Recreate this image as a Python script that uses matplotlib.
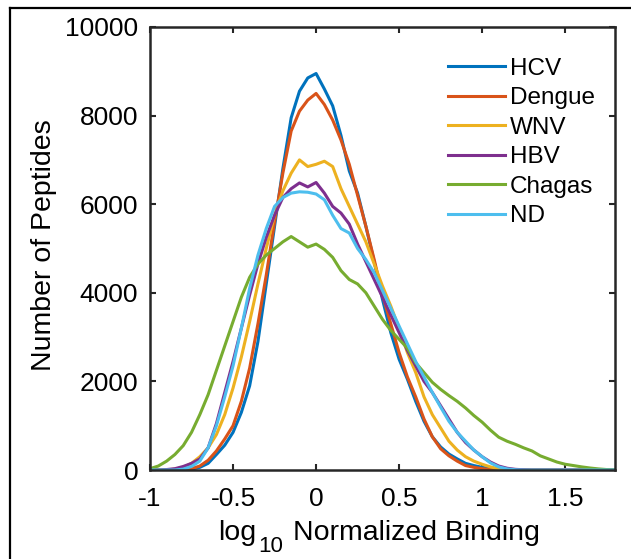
import numpy as np
import matplotlib
matplotlib.use("Agg")
import matplotlib.pyplot as plt
from matplotlib.lines import Line2D

plt.rcParams['font.family'] = ['Liberation Sans', 'DejaVu Sans']

x_start, x_step = -1.0, 0.05

hcv = [0, 0, 0, 0, 0, 20, 60, 150, 350, 560, 850, 1300, 1900, 2900, 4200, 5500, 6800, 7950,
       8550, 8850, 8950, 8600, 8220, 7550, 6750, 6250, 5500, 4700, 3850, 3100, 2500, 2050, 1550,
       1100, 750, 520, 360, 250, 150, 100, 60, 30, 10, 0, 0, 0, 0, 0, 0, 0, 0, 0, 0, 0, 0, 0, 0]
dengue = [0, 0, 0, 0, 0, 30, 90, 220, 430, 700, 1000, 1550, 2300, 3300, 4400, 5600, 6700, 7650,
          8100, 8350, 8500, 8250, 7900, 7450, 6900, 6200, 5500, 4750, 3950, 3300, 2650, 2100, 1650,
          1150, 750, 480, 320, 200, 100, 60, 30, 10, 0, 0, 0, 0, 0, 0, 0, 0, 0, 0, 0, 0, 0, 0, 0]
wnv = [0, 0, 0, 20, 60, 150, 300, 500, 800, 1250, 1850, 2550, 3350, 4200, 5000, 5750, 6300, 6700,
       7000, 6850, 6900, 6970, 6850, 6350, 5950, 5550, 5150, 4650, 4150, 3700, 3200, 2650, 2200,
       1650, 1250, 950, 650, 450, 300, 200, 130, 70, 30, 10, 0, 0, 0, 0, 0, 0, 0, 0, 0, 0, 0, 0, 0]
hbv = [0, 0, 10, 30, 80, 150, 250, 500, 1050, 1750, 2450, 3200, 3950, 4650, 5250, 5750, 6150, 6350,
       6480, 6390, 6490, 6250, 5950, 5800, 5550, 5100, 4700, 4300, 3900, 3500, 3100, 2700, 2350,
       2000, 1750, 1450, 1150, 850, 620, 450, 300, 180, 90, 40, 15, 5, 0, 0, 0, 0, 0, 0, 0, 0, 0, 0, 0]
chagas = [30, 90, 200, 350, 550, 850, 1250, 1700, 2250, 2800, 3350, 3900, 4350, 4650, 4850, 5000,
          5150, 5270, 5150, 5030, 5100, 4980, 4800, 4500, 4300, 4200, 4000, 3700, 3400, 3150, 2950,
          2750, 2420, 2200, 1980, 1820, 1680, 1550, 1400, 1230, 1080, 900, 740, 650, 580, 500, 430,
          320, 250, 180, 130, 100, 70, 45, 25, 10, 0]
nd = [0, 0, 0, 0, 20, 80, 200, 500, 1000, 1650, 2350, 3200, 4100, 4850, 5450, 5950, 6150, 6250,
      6280, 6270, 6230, 6100, 5750, 5450, 5350, 5000, 4750, 4450, 4050, 3650, 3250, 2850, 2450,
      2100, 1750, 1420, 1100, 850, 650, 450, 300, 160, 70, 25, 5, 0, 0, 0, 0, 0, 0, 0, 0, 0, 0, 0, 0]

labels = ['HCV', 'Dengue', 'WNV', 'HBV', 'Chagas', 'ND']
colors = ['#0072BD', '#D95319', '#EDB120', '#7E2F8E', '#77AC30', '#4DBEEE']
series = [hcv, dengue, wnv, hbv, chagas, nd]

x_ticks = [-1, -0.5, 0, 0.5, 1, 1.5]
x_tick_labels = ['-1', '-0.5', '0', '0.5', '1', '1.5']
y_ticks = [0, 2000, 4000, 6000, 8000, 10000]

W, H = 631, 559
fig = plt.figure(figsize=(W / 100, H / 100), dpi=100)
ax = fig.add_axes([150 / W, 1 - 470 / H, 465 / W, 443 / H])

for vals, lab, col in zip(series, labels, colors):
    xs = x_start + x_step * np.arange(len(vals))
    ax.plot(xs, vals, color=col, lw=2.2, label=lab)

ax.set_xlim(-1, 1.8)
ax.set_ylim(0, 10000)
ax.set_xticks(x_ticks)
ax.set_xticklabels(x_tick_labels)
ax.set_yticks(y_ticks)
ax.tick_params(direction='in', length=4.5, width=1.5, top=True, right=True,
               labelsize=19, colors='#262626', labelcolor='black')
ax.tick_params(axis='x', pad=12)
ax.tick_params(axis='y', pad=8.5)
for s in ax.spines.values():
    s.set_linewidth(1.8)
    s.set_color('#262626')

ax.set_ylabel('Number of Peptides', fontsize=20.5)
ax.yaxis.set_label_coords((57 - 150) / 465, (470 - 245) / 443)

# x label: "log" + lowered "10" + "Normalized Binding"
base_y = 1 - 540 / H
fig.text(218 / W, base_y, 'log', fontsize=20.5, ha='left', va='baseline')
fig.text(258 / W, 1 - 552 / H, '10', fontsize=16, ha='left', va='baseline')
fig.text(293 / W, base_y, 'Normalized Binding', fontsize=20.5, ha='left', va='baseline')

ax.legend(loc='upper left', bbox_to_anchor=(0.62, 0.953), frameon=False,
          fontsize=17.5, handlelength=2.35, handletextpad=0.2, labelspacing=0.31,
          borderaxespad=0)

# figure frame (top and left edges visible)
fig.add_artist(Line2D([10 / W, 1], [1 - 8 / H, 1 - 8 / H], transform=fig.transFigure,
                      color='black', lw=1.6))
fig.add_artist(Line2D([10 / W, 10 / W], [0, 1 - 8 / H], transform=fig.transFigure,
                      color='black', lw=1.6))

fig.savefig('out.png', dpi=100)
